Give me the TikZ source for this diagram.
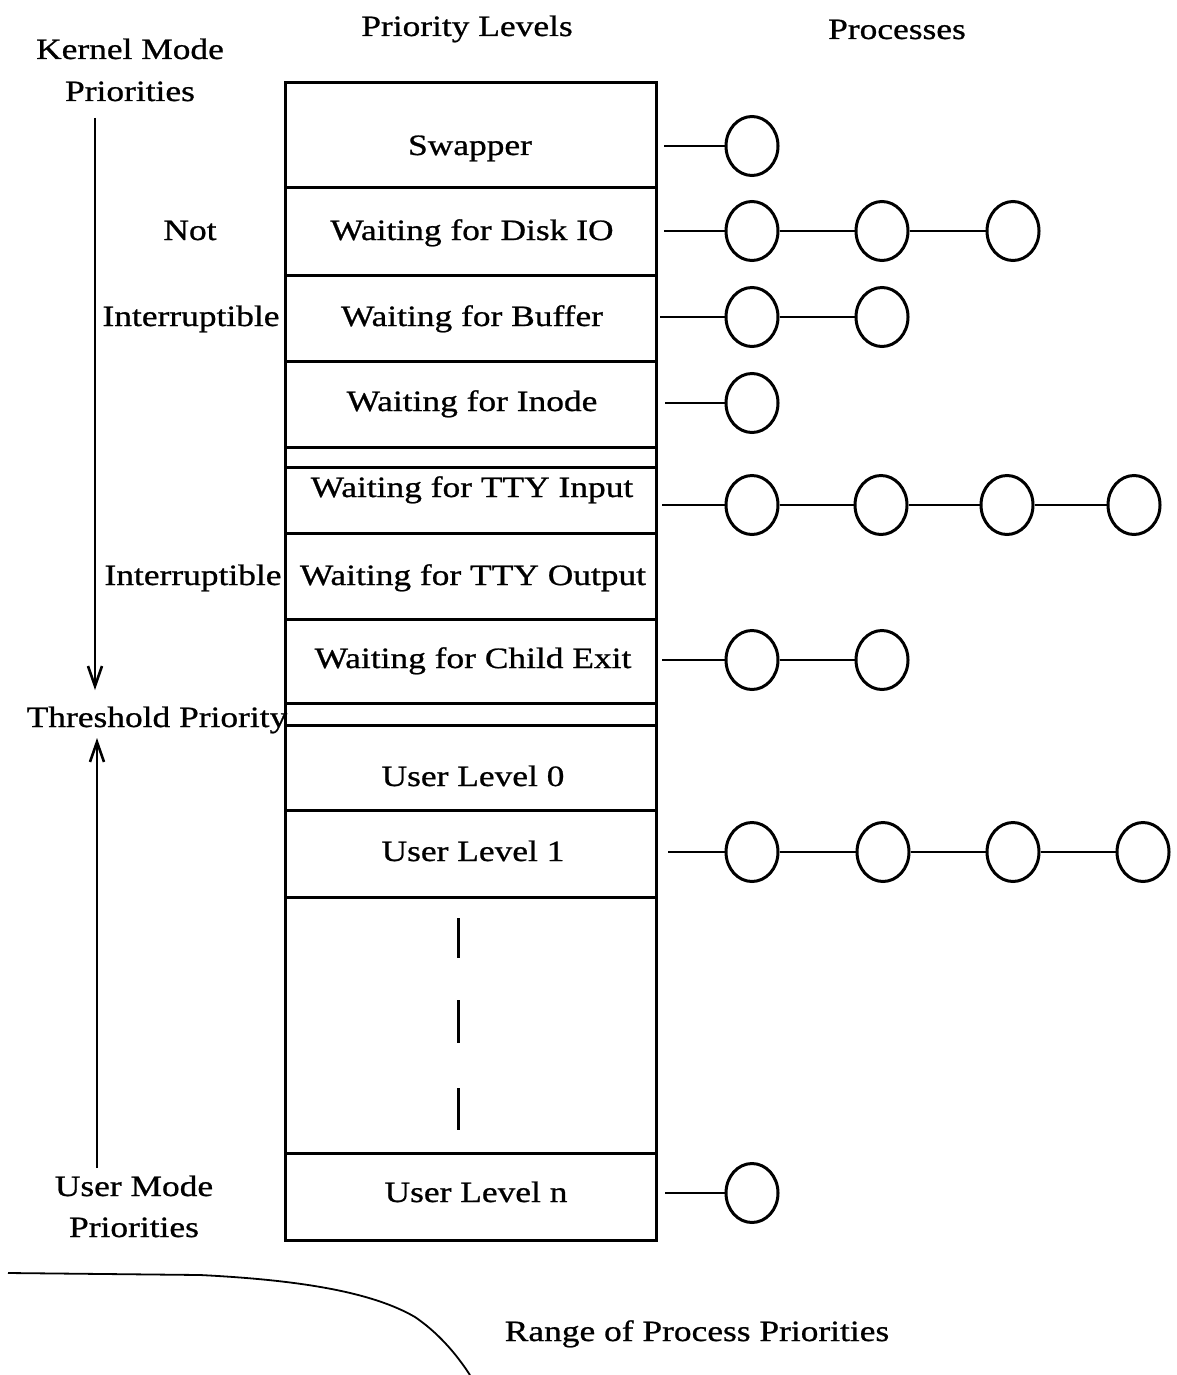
\documentclass[tikz,border=0pt]{standalone}
\usepackage{fontspec}
\setmainfont{Liberation Serif}[FakeStretch=1.2,FakeBold=0.8]
\usetikzlibrary{arrows.meta,shapes.geometric}
\begin{document}
\begin{tikzpicture}[x=1pt,y=-1pt,
  lbl/.style={font=\fontsize{29.5}{33}\selectfont, inner sep=0pt, anchor=base},
  proc/.style={draw, line width=3pt, ellipse, minimum width=52pt, minimum height=59pt, inner sep=0pt},
  link/.style={line width=2.8pt},
  frame/.style={line width=3pt},
  arr/.style={line width=2.4pt, -{Straight Barb[length=20pt,width=14pt,line width=2.6pt]}},
  dashseg/.style={line width=3pt}
]
\useasboundingbox (0,0) rectangle (1176,1375);

% headings
\node[lbl] (hk1) at (130,59) {Kernel Mode};
\node[lbl] (hk2) at (130,101) {Priorities};
\node[lbl] (hpl) at (467,36) {Priority Levels};
\node[lbl] (hpr) at (897,39) {Processes};

% frame
\draw[frame] (285,83) -- (656,83) -- (656,1240) -- (285,1240) -- cycle;
\foreach \yy in {188,275,361,447,467,533,619,703,725,810,897,1153}
  \draw[frame] (285,\yy) -- (656,\yy);

% row labels
\node[lbl] (r1) at (470,155) {Swapper};
\node[lbl] (r2) at (472,240) {Waiting for Disk IO};
\node[lbl] (r3) at (472,326) {Waiting for Buffer};
\node[lbl] (r4) at (472,411) {Waiting for Inode};
\node[lbl] (r5) at (472,497) {Waiting for TTY Input};
\node[lbl] (r6) at (473,585) {Waiting for TTY Output};
\node[lbl] (r7) at (473,668) {Waiting for Child Exit};
\node[lbl] (r8) at (473,786) {User Level 0};
\node[lbl] (r9) at (473,861) {User Level 1};
\node[lbl] (r10) at (476,1202) {User Level n};

% dashed continuation
\draw[dashseg] (458,918) -- (458,958);
\draw[dashseg] (458,1000) -- (458,1043);
\draw[dashseg] (458,1088) -- (458,1130);

% left labels
\node[lbl] (not) at (190,240) {Not};
\node[lbl] (int1) at (191,326) {Interruptible};
\node[lbl] (int2) at (193,585) {Interruptible};
\node[lbl] (thr) at (157,727) {Threshold Priority};
\node[lbl] (um1) at (134,1196) {User Mode};
\node[lbl] (um2) at (134,1237) {Priorities};
\node[lbl] (rng) at (697,1341) {Range of Process Priorities};

% arrows
\coordinate (ka) at (95,118);
\coordinate (kb) at (95,690);
\coordinate (ua) at (97,1168);
\coordinate (ub) at (97,738);
\draw[arr] (ka) -- (kb);
\draw[arr] (ua) -- (ub);

% processes
% Swapper
\coordinate (s0) at (664,146);
\node[proc] (s1) at (752,146) {};
\draw[link] (s0) -- (s1);
% Disk IO
\coordinate (d0) at (664,231);
\node[proc] (d1) at (752,231) {};
\node[proc] (d2) at (882,231) {};
\node[proc] (d3) at (1013,231) {};
\draw[link] (d0) -- (d1) -- (d2) -- (d3);
% Buffer
\coordinate (b0) at (660,317);
\node[proc] (b1) at (752,317) {};
\node[proc] (b2) at (882,317) {};
\draw[link] (b0) -- (b1) -- (b2);
% Inode
\coordinate (i0) at (665,403);
\node[proc] (i1) at (752,403) {};
\draw[link] (i0) -- (i1);
% TTY input
\coordinate (t0) at (662,505);
\node[proc] (t1) at (752,505) {};
\node[proc] (t2) at (881,505) {};
\node[proc] (t3) at (1007,505) {};
\node[proc] (t4) at (1134,505) {};
\draw[link] (t0) -- (t1) -- (t2) -- (t3) -- (t4);
% Child exit
\coordinate (c0) at (662,660);
\node[proc] (c1) at (752,660) {};
\node[proc] (c2) at (882,660) {};
\draw[link] (c0) -- (c1) -- (c2);
% User level 1
\coordinate (u0) at (668,852);
\node[proc] (u1) at (752,852) {};
\node[proc] (u2) at (883,852) {};
\node[proc] (u3) at (1013,852) {};
\node[proc] (u4) at (1143,852) {};
\draw[link] (u0) -- (u1) -- (u2) -- (u3) -- (u4);
% User level n
\coordinate (n0) at (665,1193);
\node[proc] (n1) at (752,1193) {};
\draw[link] (n0) -- (n1);

% range curve
\draw[line width=1.8pt] (8,1273) -- (200,1275) .. controls (300,1280) and (372,1292) .. (415,1317) .. controls (437,1332) and (455,1352) .. (470,1375);
\end{tikzpicture}
\end{document}
